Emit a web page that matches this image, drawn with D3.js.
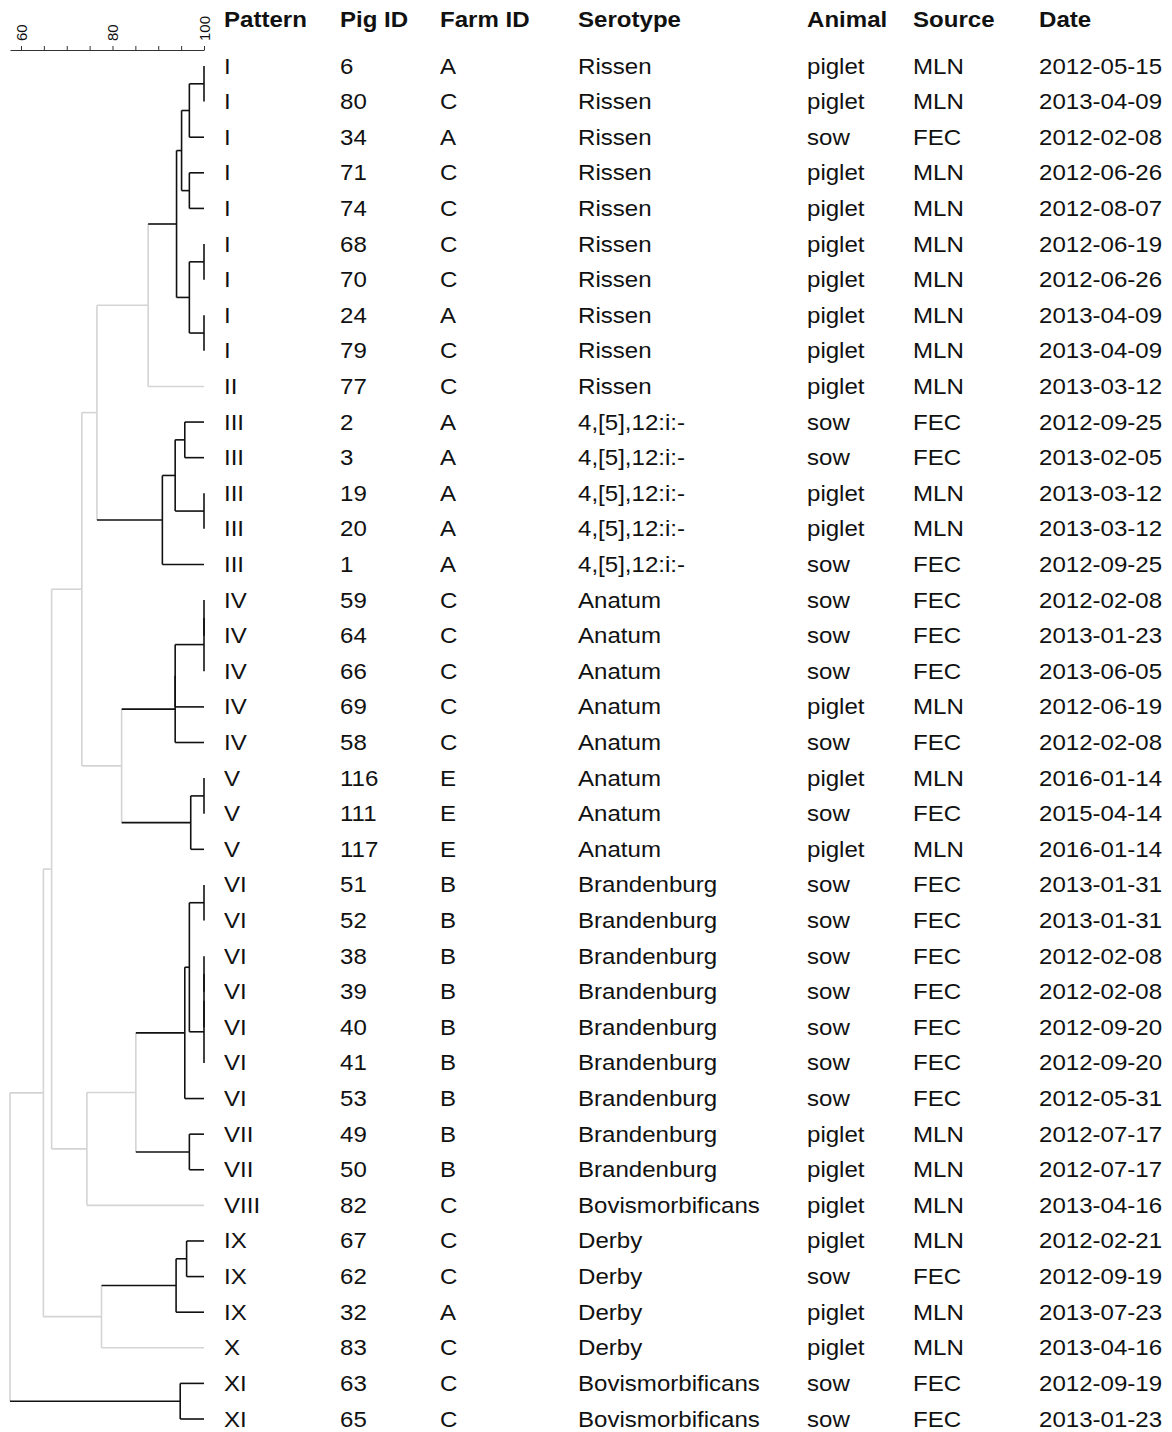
<!DOCTYPE html>
<html>
<head>
<meta charset="utf-8">
<script src="https://cdn.jsdelivr.net/npm/d3@7"></script>
<style>
  body { margin: 0; background: #fff; }
  svg text { font-family: "Liberation Sans", Arial, sans-serif; fill: #111; }
</style>
</head>
<body>
<div id="chart"></div>
<script>
// table columns, in dendrogram leaf order
var patterns = ["I","I","I","I","I","I","I","I","I","II","III","III","III","III","III",
  "IV","IV","IV","IV","IV","V","V","V","VI","VI","VI","VI","VI","VI","VI","VII","VII",
  "VIII","IX","IX","IX","X","XI","XI"];
var pigIds = ["6","80","34","71","74","68","70","24","79","77","2","3","19","20","1",
  "59","64","66","69","58","116","111","117","51","52","38","39","40","41","53","49","50",
  "82","67","62","32","83","63","65"];
var farmIds = ["A","C","A","C","C","C","C","A","C","C","A","A","A","A","A",
  "C","C","C","C","C","E","E","E","B","B","B","B","B","B","B","B","B",
  "C","C","C","A","C","C","C"];
var serotypes = ["Rissen","Rissen","Rissen","Rissen","Rissen","Rissen","Rissen","Rissen","Rissen","Rissen",
  "4,[5],12:i:-","4,[5],12:i:-","4,[5],12:i:-","4,[5],12:i:-","4,[5],12:i:-",
  "Anatum","Anatum","Anatum","Anatum","Anatum","Anatum","Anatum","Anatum",
  "Brandenburg","Brandenburg","Brandenburg","Brandenburg","Brandenburg","Brandenburg","Brandenburg","Brandenburg","Brandenburg",
  "Bovismorbificans","Derby","Derby","Derby","Derby","Bovismorbificans","Bovismorbificans"];
var animals = ["piglet","piglet","sow","piglet","piglet","piglet","piglet","piglet","piglet","piglet",
  "sow","sow","piglet","piglet","sow","sow","sow","sow","piglet","sow","piglet","sow","piglet",
  "sow","sow","sow","sow","sow","sow","sow","piglet","piglet","piglet","piglet","sow","piglet","piglet","sow","sow"];
var sources = ["MLN","MLN","FEC","MLN","MLN","MLN","MLN","MLN","MLN","MLN",
  "FEC","FEC","MLN","MLN","FEC","FEC","FEC","FEC","MLN","FEC","MLN","FEC","MLN",
  "FEC","FEC","FEC","FEC","FEC","FEC","FEC","MLN","MLN","MLN","MLN","FEC","MLN","MLN","FEC","FEC"];
var dates = ["2012-05-15","2013-04-09","2012-02-08","2012-06-26","2012-08-07","2012-06-19","2012-06-26",
  "2013-04-09","2013-04-09","2013-03-12","2012-09-25","2013-02-05","2013-03-12","2013-03-12","2012-09-25",
  "2012-02-08","2013-01-23","2013-06-05","2012-06-19","2012-02-08","2016-01-14","2015-04-14","2016-01-14",
  "2013-01-31","2013-01-31","2012-02-08","2012-02-08","2012-09-20","2012-09-20","2012-05-31","2012-07-17",
  "2012-07-17","2013-04-16","2012-02-21","2012-09-19","2013-07-23","2013-04-16","2012-09-19","2013-01-23"];

var headers = ["Pattern","Pig ID","Farm ID","Serotype","Animal","Source","Date"];

// hclust-style merges: negative = leaf (1-based), positive = earlier merge (1-based)
var merges = [
  [-1,-2],[1,-3],[-4,-5],[2,3],[-6,-7],[-8,-9],[5,6],[4,7],[8,-10],
  [-11,-12],[-13,-14],[10,11],[12,-15],[9,13],
  [-16,-17],[15,-18],[16,-19],[17,-20],[-21,-22],[19,-23],[18,20],[14,21],
  [-24,-25],[-26,-27],[24,-28],[25,-29],[23,26],[27,-30],[-31,-32],[28,29],[30,-33],[22,31],
  [-34,-35],[33,-36],[34,-37],[32,35],[-38,-39],[36,37]
];
// similarity (%) at each merge
var heights = [100,96.8,96.8,95.1,100,100,96.8,94.0,87.8,
  95.8,100,93.7,90.9,76.6,
  100,100,93.7,93.7,100,97.1,82.0,73.3,
  100,100,100,100,96.8,95.8,96.8,85.1,74.4,66.7,
  96.2,93.9,77.6,64.9,94.8,57.6];

var axisTicks = [60,65,70,75,80,85,90,95,100];
var axisLabels = [60,80,100];

var width = 1172, height = 1432;
var n = pigIds.length;

var x = d3.scaleLinear().domain([d3.min(heights), 100]).range([10, 204]);
var y = d3.scaleLinear().domain([0, n - 1]).range([66, 1419]);

// build the tree
var nodes = [];
function ref(r) {
  if (r < 0) return { leaf: -r - 1, height: 100 };
  return nodes[r - 1];
}
merges.forEach(function(m, i) {
  nodes.push({ height: heights[i], children: [ref(m[0]), ref(m[1])] });
});
var root = d3.hierarchy(nodes[nodes.length - 1]);

var patternCount = {};
patterns.forEach(function(p) { patternCount[p] = (patternCount[p] || 0) + 1; });

root.eachAfter(function(d) {
  if (d.children) d.py = d3.mean(d.children, function(c) { return c.py; });
  else d.py = y(d.data.leaf);
  d.px = x(d.data.height);
  var pats = d.leaves().map(function(l) { return patterns[l.data.leaf]; });
  var same = pats.every(function(p) { return p === pats[0]; });
  d.color = (same && patternCount[pats[0]] > 1) ? "#111" : "#d4d4d4";
});

var svg = d3.select("#chart").append("svg")
  .attr("width", width)
  .attr("height", height);
svg.append("rect").attr("width", width).attr("height", height).attr("fill", "#fff");

// dendrogram: draw gray first so black stays on top
var g = svg.append("g").attr("fill", "none").attr("stroke-width", 1.6);
var segs = [];
root.each(function(d) {
  if (!d.children) return;
  var ys = d.children.map(function(c) { return c.py; });
  segs.push({ x1: d.px, y1: d3.min(ys), x2: d.px, y2: d3.max(ys), color: d.color });
  d.children.forEach(function(c) {
    segs.push({ x1: d.px, y1: c.py, x2: c.px, y2: c.py, color: c.color });
  });
});
segs.sort(function(a, b) { return a.color === "#111" ? 1 : -1; });
g.selectAll("line")
  .data(segs)
  .enter()
  .append("line")
  .attr("x1", function(d) { return d.x1; })
  .attr("y1", function(d) { return d.y1; })
  .attr("x2", function(d) { return d.x2; })
  .attr("y2", function(d) { return d.y2; })
  .attr("stroke", function(d) { return d.color; });

// scale on top
var axis = d3.axisTop(x)
  .tickValues(axisTicks)
  .tickSize(4)
  .tickSizeOuter(0)
  .tickFormat(function(v) { return axisLabels.indexOf(v) >= 0 ? v : ""; });
var ax = svg.append("g").attr("transform", "translate(0,50)").call(axis);
ax.select(".domain").attr("stroke", "#333");
ax.selectAll(".tick line").attr("stroke", "#333");
ax.selectAll(".tick text")
  .attr("font-size", 15)
  .attr("text-anchor", "start")
  .attr("transform", "rotate(-90)")
  .attr("x", 9)
  .attr("y", 0)
  .attr("dy", "0.35em");

// table
var colX = [224, 340, 440, 578, 807, 913, 1039];
var columns = [patterns, pigIds, farmIds, serotypes, animals, sources, dates];

svg.append("g").selectAll("text")
  .data(headers)
  .enter()
  .append("text")
  .attr("transform", function(d, i) { return "translate(" + colX[i] + ",27) scale(1.12,1)"; })
  .attr("font-size", 21.5)
  .attr("font-weight", "bold")
  .text(function(d) { return d; });

columns.forEach(function(col, ci) {
  svg.append("g").selectAll("text")
    .data(col)
    .enter()
    .append("text")
    .attr("transform", function(d, i) { return "translate(" + colX[ci] + "," + (y(i) + 7.5) + ") scale(1.12,1)"; })
    .attr("font-size", 21.5)
    .text(function(d) { return d; });
});
</script>
</body>
</html>
